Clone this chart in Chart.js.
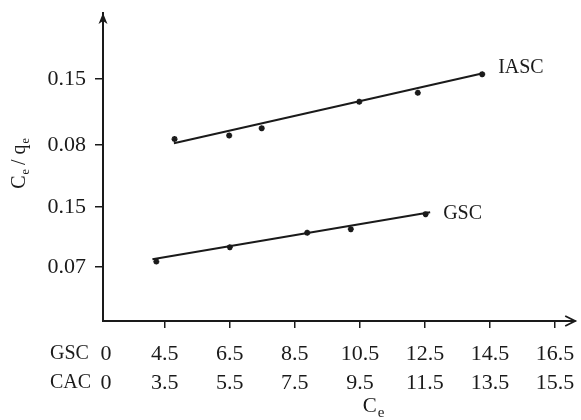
<!DOCTYPE html>
<html>
<head>
<meta charset="utf-8">
<script src="https://cdn.jsdelivr.net/npm/chart.js@4/dist/chart.umd.min.js"></script>
<style>
  html, body { margin: 0; padding: 0; background: #fff; }
  canvas { display: block; }
</style>
</head>
<body>
<canvas id="chart" width="581" height="420"></canvas>
<script>
const FONT = '"Liberation Serif", "Times New Roman", serif';
const INK = "#1a1a1a";

// x axis: slots 1..7, each labelled with a GSC value and a CAC value
const xTicks = [1, 2, 3, 4, 5, 6, 7];
const gscTickLabels = ["4.5", "6.5", "8.5", "10.5", "12.5", "14.5", "16.5"];
const cacTickLabels = ["3.5", "5.5", "7.5", "9.5", "11.5", "13.5", "15.5"];

// y axis: two stacked panels (GSC below, IASC above) share one axis
const yTicks = [0.9, 1.9, 2.93, 4.03];
const yTickLabels = ["0.07", "0.15", "0.08", "0.15"];

const iascX = [1.15, 1.99, 2.49, 3.99, 4.89, 5.88];
const iascY = [3.03, 3.09, 3.21, 3.65, 3.80, 4.11];
const iascFitX = [1.14, 5.91];
const iascFitY = [2.96, 4.13];

const gscX = [0.87, 2.00, 3.19, 3.86, 5.01];
const gscY = [0.99, 1.23, 1.47, 1.53, 1.78];
const gscFitX = [0.81, 5.08];
const gscFitY = [1.03, 1.81];

const toPoints = (xs, ys) => xs.map((x, i) => ({ x, y: ys[i] }));

// draws runs of [text, isSubscript] starting at x on a baseline y
function drawSubText(ctx, parts, x, y, size, align, subRatio = 0.62) {
    const subSize = Math.round(size * subRatio);
    const widths = parts.map(([t, sub]) => {
        ctx.font = `${sub ? subSize : size}px ${FONT}`;
        return ctx.measureText(t).width;
    });
    const total = widths.reduce((a, b) => a + b, 0);
    let cx = align === "center" ? x - total / 2 : x;
    ctx.textAlign = "left";
    ctx.textBaseline = "alphabetic";
    parts.forEach(([t, sub], i) => {
        ctx.font = `${sub ? subSize : size}px ${FONT}`;
        ctx.fillText(t, cx + (sub ? 1 : 0), sub ? y + size * 0.22 : y);
        cx += widths[i];
    });
}

const arrows = {
    id: "arrows",
    afterDraw(chart) {
        const { ctx, chartArea: a } = chart;
        ctx.save();
        ctx.fillStyle = INK;
        ctx.beginPath();
        ctx.moveTo(a.left, a.top);
        ctx.lineTo(a.left - 4.5, a.top + 11);
        ctx.lineTo(a.left, a.top + 8);
        ctx.lineTo(a.left + 4.5, a.top + 11);
        ctx.closePath();
        ctx.fill();
        ctx.strokeStyle = INK;
        ctx.lineWidth = 1.8;
        ctx.beginPath();
        ctx.moveTo(a.right - 10, a.bottom - 5);
        ctx.lineTo(a.right, a.bottom);
        ctx.lineTo(a.right - 10, a.bottom + 5);
        ctx.stroke();
        ctx.restore();
    },
};

const captions = {
    id: "captions",
    afterDraw(chart) {
        const { ctx, chartArea: a, scales } = chart;
        const xs = scales.x, ys = scales.y;
        ctx.save();
        ctx.fillStyle = INK;

        // row captions and the shared origin labels under the x axis
        ctx.textBaseline = "middle";
        ctx.font = `20px ${FONT}`;
        ctx.textAlign = "left";
        ctx.fillText("GSC", 50, 354);
        ctx.fillText("CAC", 50, 383);
        ctx.font = `22px ${FONT}`;
        ctx.textAlign = "center";
        ctx.fillText("0", a.left + 3, 354);
        ctx.fillText("0", a.left + 3, 383);

        // series names at the end of each fitted line
        ctx.font = `20px ${FONT}`;
        ctx.textAlign = "left";
        const last = (fx, fy) => [xs.getPixelForValue(fx[fx.length - 1]), ys.getPixelForValue(fy[fy.length - 1])];
        const [ix, iy] = last(iascFitX, iascFitY);
        ctx.fillText("IASC", ix + 14, iy - 5);
        const [gx, gy] = last(gscFitX, gscFitY);
        ctx.fillText("GSC", gx + 13, gy + 1);

        // axis titles
        drawSubText(ctx, [["C", false], ["e", true]], 373, 412, 21, "center", 0.7);
        ctx.translate(19, 164);
        ctx.rotate(-Math.PI / 2);
        drawSubText(ctx, [["C", false], ["e", true], [" / q", false], ["e", true]], 0, 6, 20, "center");
        ctx.restore();
    },
};

const markerStyle = {
    showLine: false,
    pointStyle: "star",
    pointRadius: 3,
    pointBorderWidth: 1.8,
    pointBorderColor: INK,
    pointBackgroundColor: INK,
};

const fitStyle = {
    showLine: true,
    borderColor: INK,
    borderWidth: 2,
    pointRadius: 0,
};

new Chart(document.getElementById("chart"), {
    type: "scatter",
    data: {
        datasets: [
            { label: "IASC", data: toPoints(iascX, iascY), ...markerStyle },
            { label: "IASC fit", data: toPoints(iascFitX, iascFitY), ...fitStyle },
            { label: "GSC", data: toPoints(gscX, gscY), ...markerStyle },
            { label: "GSC fit", data: toPoints(gscFitX, gscFitY), ...fitStyle },
        ],
    },
    options: {
        responsive: false,
        animation: false,
        devicePixelRatio: 1,
        layout: { padding: { top: 13, right: 1, left: 0, bottom: 0 } },
        plugins: { legend: { display: false }, tooltip: { enabled: false } },
        scales: {
            x: {
                type: "linear",
                min: 0.05,
                max: 7.31,
                afterBuildTicks: (s) => { s.ticks = xTicks.map((v) => ({ value: v })); },
                afterFit: (s) => {
                    s.height = 99;
                    s.paddingLeft = 0;
                    s.paddingRight = 0;
                },
                ticks: {
                    callback: (v, i) => [gscTickLabels[i], cacTickLabels[i]],
                    font: { family: FONT, size: 22, lineHeight: 1.32 },
                    color: INK,
                    padding: 12,
                    maxRotation: 0,
                    autoSkip: false,
                },
                grid: { drawOnChartArea: false, drawTicks: true, tickLength: 7, color: INK, lineWidth: 1.5 },
                border: { color: INK, width: 2 },
            },
            y: {
                type: "linear",
                min: 0,
                max: 5.13,
                afterBuildTicks: (s) => { s.ticks = yTicks.map((v) => ({ value: v })); },
                afterFit: (s) => {
                    s.width = 103;
                    s.paddingTop = 0;
                    s.paddingBottom = 0;
                },
                ticks: {
                    callback: (v, i) => yTickLabels[i],
                    font: { family: FONT, size: 22 },
                    color: INK,
                    padding: 9,
                    autoSkip: false,
                },
                grid: { drawOnChartArea: false, drawTicks: true, tickLength: 8, color: INK, lineWidth: 1.5 },
                border: { color: INK, width: 2 },
            },
        },
    },
    plugins: [arrows, captions],
});
</script>
</body>
</html>
